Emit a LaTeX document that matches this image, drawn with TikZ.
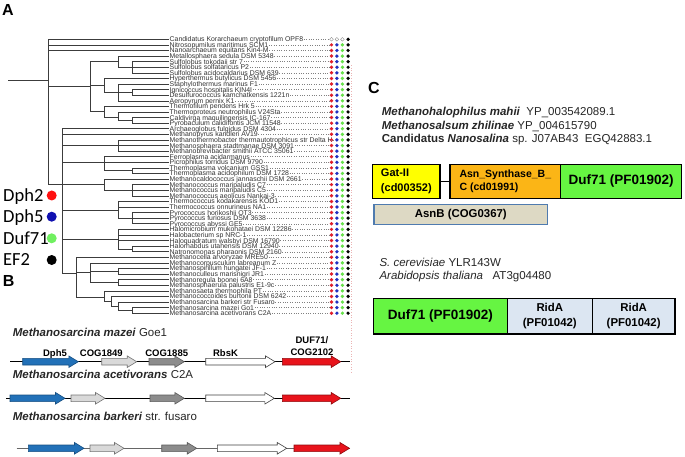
\documentclass[tikz,border=0pt]{standalone}
\usepackage{fontspec}
\setmainfont{Liberation Sans}
\newfontfamily\keyfont{Carlito}

\definecolor{treeline}{HTML}{3C3C3C}
\definecolor{dotred}{HTML}{E01E2A}
\definecolor{dotblue}{HTML}{2230C0}
\definecolor{dotgreen}{HTML}{66E04A}
\definecolor{keyred}{HTML}{FF1010}
\definecolor{keyblue}{HTML}{1010B0}
\definecolor{keygreen}{HTML}{70F060}
\definecolor{dphblue}{HTML}{2271B8}
\definecolor{dphblueD}{HTML}{164E80}
\definecolor{lgrey}{HTML}{D9D9D9}
\definecolor{dgrey}{HTML}{8C8C8C}
\definecolor{dufred}{HTML}{E8131B}
\definecolor{dufredD}{HTML}{8E0A0E}
\definecolor{gatyellow}{HTML}{FFFF00}
\definecolor{asnorange}{HTML}{FBB516}
\definecolor{dufgreen}{HTML}{66F542}
\definecolor{asnbfill}{HTML}{DDD9C4}
\definecolor{asnbdraw}{HTML}{4F7BAF}
\definecolor{ridafill}{HTML}{DCE6F2}
\definecolor{pinkline}{HTML}{EBB4B4}

\tikzset{
  branch/.style={draw=treeline, line width=0.55pt},
  leaf/.style={anchor=west, inner sep=0.5pt, text height=5pt, text depth=0pt,
    font=\fontsize{6.9}{7}\selectfont, text=black!80},
  leader/.style={draw=black!50, dotted, line width=0.4pt},
  pdot/.style={circle, inner sep=0pt, minimum size=3.7pt},
  keytext/.style={anchor=base west, inner sep=0pt, font=\keyfont\fontsize{18.5}{20}\selectfont},
  keydot/.style={circle, inner sep=0pt, minimum size=10pt},
  panel/.style={anchor=base west, inner sep=0pt, font=\bfseries\fontsize{16}{18}\selectfont},
  species/.style={anchor=base west, inner sep=0pt, font=\fontsize{11.5}{13}\selectfont, text=black!85},
  genelabel/.style={anchor=base, inner sep=0pt, font=\bfseries\fontsize{9.5}{11.5}\selectfont},
  backbone/.style={draw=black, line width=0.7pt},
  gene/.style={line width=0.6pt, line join=miter},
  dphgene/.style={gene, fill=dphblue, draw=dphblueD},
  lgene/.style={gene, fill=lgrey, draw=black!55},
  dgene/.style={gene, fill=dgrey, draw=black!65},
  wgene/.style={gene, fill=white, draw=black!75},
  rgene/.style={gene, fill=dufred, draw=dufredD},
  dom/.style={draw=black, line width=1.4pt, inner sep=0pt, align=left},
}

\begin{document}
\begin{tikzpicture}[x=1pt,y=-1pt]
  \useasboundingbox (0,0) rectangle (685,457);

  \node[panel] (pA) at (2,16) {A};
  \node[panel] (pB) at (2.7,286.5) {B};
  \node[panel] (pC) at (368,93.5) {C};

  \foreach \nm [count=\i] in {Candidatus Korarchaeum cryptofilum OPF8,
      Nitrosopumilus maritimus SCM1, Nanoarchaeum equitans Kin4-M,
      Metallosphaera sedula DSM 5348, Sulfolobus tokodaii str 7,
      Sulfolobus solfataricus P2, Sulfolobus acidocaldarius DSM 639,
      Hyperthermus butylicus DSM 5456, Staphylothermus marinus F1,
      Ignicoccus hospitalis KIN4I, Desulfurococcus kamchatkensis 1221n,
      Aeropyrum pernix K1, Thermofilum pendens Hrk 5,
      Thermoproteus neutrophilus V24Sta, Caldivirga maquilingensis IC-167,
      Pyrobaculum calidifontis JCM 11548, Archaeoglobus fulgidus DSM 4304,
      Methanopyrus kandleri AV19,
      Methanothermobacter thermautotrophicus str Delta H,
      Methanosphaera stadtmanae DSM 3091, Methanobrevibacter smithii ATCC 35061,
      Ferroplasma acidarmanus, Picrophilus torridus DSM 9790,
      Thermoplasma volcanium GSS1, Thermoplasma acidophilum DSM 1728,
      Methanocaldococcus jannaschii DSM 2661, Methanococcus maripaludis C7,
      Methanococcus maripaludis C5, Methanococcus aeolicus Nankai-3,
      Thermococcus kodakarensis KOD1, Thermococcus onnurineus NA1,
      Pyrococcus horikoshii OT3, Pyrococcus furiosus DSM 3638,
      Pyrococcus abyssi GE5, Halomicrobium mukohataei DSM 12286,
      Halobacterium sp NRC-1, Haloquadratum walsbyi DSM 16790,
      Halorhabdus utahensis DSM 12940, Natronomonas pharaonis DSM 2160,
      Methanocella arvoryzae MRE50, Methanocorpusculum labreanum Z,
      Methanospirillum hungatei JF-1, Methanoculleus marisnigri JR1,
      Methanoregula boonei 6A8, Methanosphaerula palustris E1-9c,
      Methanosaeta thermophila PT, Methanococcoides burtonii DSM 6242,
      Methanosarcina barkeri str Fusaro, Methanosarcina mazei Go1,
      Methanosarcina acetivorans C2A}
    \node[leaf] (l\i) at (169,{33.71+5.59*\i}) {\nm};

  \node[pdot, draw=black!45, line width=0.4pt] (dr1) at (331.5,39.3) {};
  \node[pdot, draw=black!45, line width=0.4pt] (db1) at (336.9,39.3) {};
  \node[pdot, draw=black!45, line width=0.4pt] (dg1) at (342.4,39.3) {};
  \node[pdot, fill=black] (dk1) at (348.1,39.3) {};
  \foreach \i in {2,...,50} {
    \node[pdot, fill=dotred] (dr\i) at (331.5,{33.71+5.59*\i}) {};
    \node[pdot, fill=dotblue] (db\i) at (336.9,{33.71+5.59*\i}) {};
    \node[pdot, fill=dotgreen] (dg\i) at (342.4,{33.71+5.59*\i}) {};
    \node[pdot, fill=black] (dk\i) at (348.1,{33.71+5.59*\i}) {};
  }
  \foreach \i in {1,...,50}
    \draw[leader] (l\i.east) -- (dr\i.west);

  \node (root) at (48,80.7) {};
  \node (cren) at (90,86) {};
  \node (sulf) at (118,61.66) {};
  \node (sulfo) at (132,67.25) {};
  \node (desu) at (104,85.3) {};
  \node (desu2) at (118,92.2) {};
  \node (desu3) at (132,92.4) {};
  \node (tprot) at (104,111.7) {};
  \node (tprot2) at (118,117) {};
  \node (tprot3) at (132,120.35) {};
  \node (eury) at (62,184) {};
  \node (mbac) at (118,145.5) {};
  \node (tplas) at (104,162.7) {};
  \node (tplas2) at (132,170.67) {};
  \node (mcoc) at (104,184.6) {};
  \node (mcoc2) at (132,190.23) {};
  \node (tcoc) at (118,209.8) {};
  \node (pyro) at (132,218.18) {};
  \node (halo) at (118,239.3) {};
  \node (halo2) at (132,248.9) {};
  \node (mmic) at (76,273) {};
  \node (mmb) at (90,272.7) {};
  \node (mmb1) at (118,271.3) {};
  \node (mmb2) at (118,282.5) {};
  \node (msar) at (104,297) {};
  \node (msar2) at (111,301.5) {};
  \node (msar3) at (118,306.2) {};
  \node (msar4) at (132,310.4) {};
  \coordinate (stem) at (8,80.7);

  \draw[branch] (stem) -- (root.center);
  \foreach \p/\c in {root/l1.west, root/l2.west, root/l3.west, root/cren.center,
      root/eury.center, cren/sulf.center, cren/desu.center, cren/tprot.center,
      sulf/l4.west, sulf/sulfo.center, sulfo/l5.west, sulfo/l6.west, sulfo/l7.west,
      desu/l8.west, desu/desu2.center, desu2/l9.west, desu2/desu3.center,
      desu2/l12.west, desu3/l10.west, desu3/l11.west,
      tprot/l13.west, tprot/tprot2.center, tprot2/l14.west, tprot2/tprot3.center,
      tprot3/l15.west, tprot3/l16.west,
      eury/l17.west, eury/l18.west, eury/mbac.center, eury/tplas.center,
      eury/mcoc.center, eury/tcoc.center, eury/halo.center, eury/mmic.center,
      mbac/l19.west, mbac/l20.west, mbac/l21.west,
      tplas/l22.west, tplas/l23.west, tplas/tplas2.center, tplas2/l24.west,
      tplas2/l25.west, mcoc/l26.west, mcoc/mcoc2.center, mcoc2/l27.west,
      mcoc2/l28.west, mcoc2/l29.west, tcoc/l30.west, tcoc/l31.west,
      tcoc/pyro.center, pyro/l32.west, pyro/l33.west, pyro/l34.west,
      halo/l35.west, halo/l36.west, halo/l37.west, halo/halo2.center,
      halo2/l38.west, halo2/l39.west,
      mmic/l40.west, mmic/mmb.center, mmic/msar.center, mmb/l41.west,
      mmb/mmb1.center, mmb/mmb2.center, mmb1/l42.west, mmb1/l43.west,
      mmb2/l44.west, mmb2/l45.west, msar/l46.west, msar/msar2.center,
      msar2/l47.west, msar2/msar3.center, msar3/l48.west, msar3/msar4.center,
      msar4/l49.west, msar4/l50.west}
    \draw[branch] (\p.center) |- (\c);

  \node[keytext] (kdph2) at (3,201.8) {Dph2};
  \node[keytext] (kdph5) at (3,222.6) {Dph5};
  \node[keytext] (kduf71) at (3,244) {Duf71};
  \node[keytext] (kef2) at (3,265.8) {EF2};
  \node[keydot, fill=keyred] (kdotr) at (51.7,195.5) {};
  \node[keydot, fill=keyblue] (kdotb) at (51.7,216.7) {};
  \node[keydot, fill=keygreen] (kdotg) at (51.7,238.3) {};
  \node[keydot, fill=black] (kdotk) at (51.7,260) {};

  \node[species] (smz) at (12.7,336.1) {\textbf{\textit{Methanosarcina mazei}} Goe1};
  \node[species] (sac) at (12.7,378.1) {\textbf{\textit{Methanosarcina acetivorans}} C2A};
  \node[species] (sbk) at (12.7,420.8) {\textbf{\textit{Methanosarcina barkeri}} str. fusaro};

  \coordinate (mzL) at (10,361.7);
  \coordinate (mzR) at (350,361.7);
  \coordinate (acL) at (6,398.3);
  \coordinate (acR) at (350,398.3);
  \coordinate (bkL) at (16.7,448.3);
  \coordinate (bkR) at (350,448.3);
  \draw[backbone] (mzL) -- (mzR);
  \draw[backbone] (acL) -- (acR);
  \draw[backbone, draw=black!60] (bkL) -- (bkR);

  \foreach \a/\b/\y/\s in {22.7/78.3/361.7/dphgene, 101.7/136.7/361.7/lgene,
      149/184.3/361.7/dgene, 205.7/275/361.7/wgene, 282.3/340.7/361.7/rgene,
      10/65/398.3/dphgene, 71/105/398.3/lgene, 150/184.3/398.3/dgene,
      205.7/274.3/398.3/wgene, 282.3/340.7/398.3/rgene,
      28.3/84/448.3/dphgene, 90/124/448.3/lgene, 161.7/196.7/448.3/dgene,
      217.3/286.7/448.3/wgene, 294/349.5/448.3/rgene}
    \draw[\s] (\a,{\y-3.3}) -- ({\b-9.5},{\y-3.3}) -- ({\b-9.5},{\y-5.8})
      -- (\b,\y) -- ({\b-9.5},{\y+5.8}) -- ({\b-9.5},{\y+3.3}) -- (\a,{\y+3.3}) -- cycle;

  \node[genelabel] (gdph5) at (55,356.1) {Dph5};
  \node[genelabel] (gc1849) at (101.3,356.1) {COG1849};
  \node[genelabel] (gc1885) at (166.7,356.1) {COG1885};
  \node[genelabel] (grbsk) at (225.5,356.1) {RbsK};
  \node[genelabel, anchor=south, align=center] (gduf) at (312,355.5) {DUF71/\\COG2102};

  \coordinate (cdotT) at (351,65);
  \coordinate (cdotB) at (351,372);
  \draw[draw=pinkline, dotted, line width=0.6pt] (cdotT) -- (cdotB);

  \node[species] (cmah) at (381.7,115.8) {\textbf{\textit{Methanohalophilus mahii}}\ \ YP\_003542089.1};
  \node[species] (czhi) at (381.7,129.1) {\textbf{\textit{Methanosalsum zhilinae}} YP\_004615790};
  \node[species] (cnan) at (381.7,142.4) {\textbf{Candidatus \textit{Nanosalina}} sp. J07AB43\ \ EGQ42883.1};

  \node[dom, fill=gatyellow, minimum width=67.3pt, minimum height=34pt,
    font=\bfseries\fontsize{11}{15}\selectfont] (gat) at (406.35,181.3) {Gat-II\\(cd00352)};
  \node[dom, fill=asnorange, minimum width=110.7pt, minimum height=34pt,
    font=\bfseries\fontsize{10.5}{12.5}\selectfont] (asn) at (505.35,181.3) {Asn\_Synthase\_B\_\\C (cd01991)};
  \node[dom, fill=dufgreen, minimum width=121pt, minimum height=34pt,
    font=\bfseries\fontsize{13.5}{15}\selectfont] (duf) at (621.2,181.3) {Duf71 (PF01902)};
  \draw[line width=1.4pt] (gat) -- (asn);
  \node[dom, fill=asnbfill, draw=asnbdraw, minimum width=173.7pt, minimum height=20pt,
    font=\bfseries\fontsize{11.4}{13}\selectfont] (asnb) at (460.85,214.3) {AsnB (COG0367)};

  \node[species] (cscer) at (379.3,266.8) {\textit{S. cerevisiae} YLR143W};
  \node[species] (cath) at (379.3,279.8) {\textit{Arabidopsis thaliana}\ \ \ AT3g04480};

  \node[dom, fill=dufgreen, minimum width=134pt, minimum height=35.7pt,
    font=\bfseries\fontsize{13.5}{15}\selectfont] (duf2) at (440.3,316.15) {Duf71 (PF01902)};
  \node[dom, fill=ridafill, minimum width=85pt, minimum height=35.7pt, align=center,
    font=\bfseries\fontsize{11.4}{14.4}\selectfont] (rida1) at (549.8,316.15) {RidA\\(PF01042)};
  \node[dom, fill=ridafill, minimum width=82.7pt, minimum height=35.7pt, align=center,
    font=\bfseries\fontsize{11.4}{14.4}\selectfont] (rida2) at (633.65,316.15) {RidA\\(PF01042)};
\end{tikzpicture}
\end{document}
